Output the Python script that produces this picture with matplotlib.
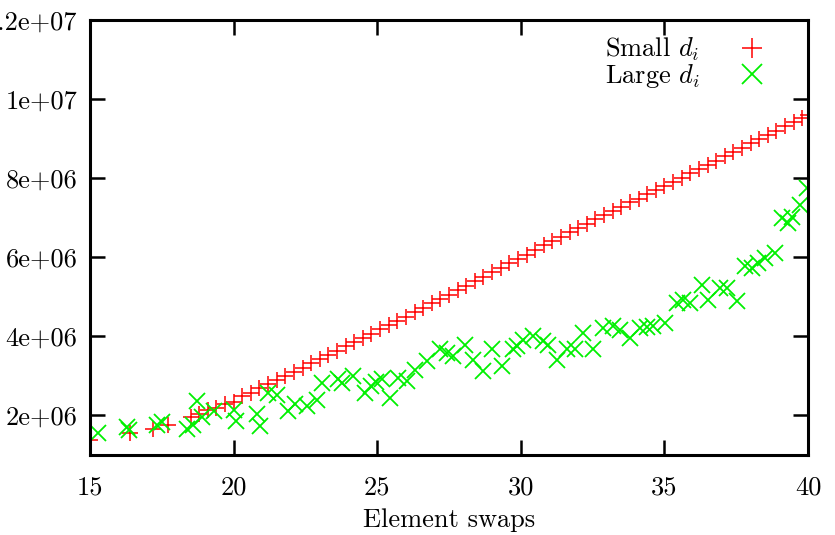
import matplotlib
matplotlib.use("Agg")
import matplotlib.pyplot as plt
from matplotlib.lines import Line2D

plt.rcParams['font.family'] = ['cmr10', 'DejaVu Serif']
plt.rcParams['mathtext.fontset'] = 'cm'
plt.rcParams['axes.unicode_minus'] = False

# Small d_i (red +), y in units of 1e6
small_x = [15.0, 16.4, 17.2, 17.7,
           18.5, 18.8, 19.1, 19.4, 19.7, 20.0, 20.3, 20.6, 20.9, 21.2, 21.5, 21.8,
           22.1, 22.4, 22.7, 23.0, 23.3, 23.6, 23.9, 24.2, 24.5, 24.8, 25.1, 25.4,
           25.7, 26.0, 26.3, 26.6, 26.9, 27.2, 27.5, 27.8, 28.1, 28.4, 28.7, 29.0,
           29.3, 29.6, 29.9, 30.2, 30.5, 30.8, 31.1, 31.4, 31.7, 32.0, 32.3, 32.6,
           32.9, 33.2, 33.5, 33.8, 34.1, 34.4, 34.7, 35.0, 35.3, 35.6, 35.9, 36.2,
           36.5, 36.8, 37.1, 37.4, 37.7, 38.0, 38.3, 38.6, 38.9, 39.2, 39.5, 39.8, 40.0]
small_y = [1.39, 1.55, 1.65, 1.77,
           1.95, 2.03, 2.13, 2.20, 2.28, 2.35, 2.50, 2.58, 2.70, 2.80, 2.90, 3.00,
           3.10, 3.20, 3.32, 3.42, 3.53, 3.63, 3.75, 3.85, 3.97, 4.07, 4.18, 4.29,
           4.40, 4.50, 4.62, 4.72, 4.84, 4.95, 5.05, 5.17, 5.28, 5.39, 5.51, 5.62,
           5.74, 5.85, 5.96, 6.07, 6.18, 6.30, 6.41, 6.52, 6.63, 6.74, 6.85, 6.96,
           7.06, 7.17, 7.28, 7.39, 7.48, 7.59, 7.70, 7.81, 7.91, 8.01, 8.12, 8.23,
           8.33, 8.44, 8.55, 8.66, 8.77, 8.88, 8.98, 9.08, 9.19, 9.31, 9.42, 9.52, 9.60]

# Large d_i (green x), y in units of 1e6
large_x = [15.29, 16.3, 16.35, 17.32, 17.5, 18.37, 18.6, 18.71, 18.9, 19.3,
           20.0, 20.1, 20.8, 20.92, 21.2, 21.5, 21.9, 22.14, 22.55, 22.9,
           23.07, 23.65, 23.76, 24.17, 24.57, 24.8, 24.95, 25.16, 25.45, 25.74,
           26.03, 26.32, 26.72, 27.19, 27.42, 27.65, 28.06, 28.35, 28.7, 28.99,
           29.33, 29.74, 29.86, 30.09, 30.44, 30.78, 30.96, 31.25, 31.6, 31.89,
           32.18, 32.52, 32.87, 33.22, 33.45, 33.8, 34.15, 34.38, 34.61, 35.02,
           35.43, 35.66, 35.89, 36.3, 36.53, 36.94, 37.17, 37.52, 37.8, 38.04,
           38.27, 38.5, 38.85, 39.08, 39.32, 39.43, 39.72, 39.95]
large_y = [1.55, 1.72, 1.62, 1.75, 1.83, 1.65, 1.77, 2.36, 1.95, 2.11,
           2.15, 1.85, 2.03, 1.73, 2.57, 2.53, 2.11, 2.28, 2.23, 2.40,
           2.83, 2.91, 2.83, 3.01, 2.57, 2.74, 2.85, 2.91, 2.45, 2.95,
           2.87, 3.16, 3.37, 3.67, 3.58, 3.50, 3.79, 3.41, 3.12, 3.67,
           3.25, 3.67, 3.75, 3.92, 4.00, 3.88, 3.79, 3.41, 3.67, 3.67,
           4.09, 3.67, 4.21, 4.25, 4.17, 3.96, 4.21, 4.24, 4.25, 4.34,
           4.85, 4.93, 4.85, 5.31, 4.93, 5.22, 5.22, 4.89, 5.77, 5.73,
           5.86, 5.98, 6.11, 6.99, 6.87, 7.03, 7.33, 7.75]

x_ticks = [15, 20, 25, 30, 35, 40]
y_ticks = [2e6, 4e6, 6e6, 8e6, 1e7, 1.2e7]
y_tick_labels = ['2e+06', '4e+06', '6e+06', '8e+06', '1e+07', '1.2e+07']

RED = '#ff0000'
GREEN = '#00f000'
FS = 19

fig = plt.figure(figsize=(8.35, 5.35), dpi=100)
ax = fig.add_axes([0.1078, 0.1495, 0.8599, 0.8131])

ax.plot(small_x, [v * 1e6 for v in small_y], linestyle='none', marker='+',
        color=RED, markersize=11, markeredgewidth=1.1, label='Small $d_i$')
ax.plot(large_x, [v * 1e6 for v in large_y], linestyle='none', marker='x',
        color=GREEN, markersize=12, markeredgewidth=1.3, label='Large $d_i$')

ax.set_xlim(15, 40)
ax.set_ylim(1e6, 1.2e7)
ax.set_xticks(x_ticks)
ax.set_xticklabels([str(t) for t in x_ticks])
ax.set_yticks(y_ticks)
ax.set_yticklabels(y_tick_labels)

ax.tick_params(direction='in', length=11, width=1.8, labelsize=FS,
               top=True, right=True)
ax.tick_params(axis='y', pad=9)
ax.tick_params(axis='x', pad=15)
for s in ax.spines.values():
    s.set_linewidth(2.2)

ax.set_xlabel('Element swaps', fontsize=FS, labelpad=6)

handles = [Line2D([], [], linestyle='none', marker='+', color=RED,
                  markersize=14, markeredgewidth=1.1),
           Line2D([], [], linestyle='none', marker='x', color=GREEN,
                  markersize=14, markeredgewidth=1.3)]
leg = ax.legend(handles, ['Small $d_i$', 'Large $d_i$'], loc='upper right',
                bbox_to_anchor=(0.972, 1.0), frameon=False, markerfirst=False,
                fontsize=FS, handlelength=1.5, handletextpad=1.25,
                labelspacing=-0.05, borderaxespad=0.2)
for t in leg.get_texts():
    t.set_ha('right')

fig.savefig('out.png', dpi=100)
